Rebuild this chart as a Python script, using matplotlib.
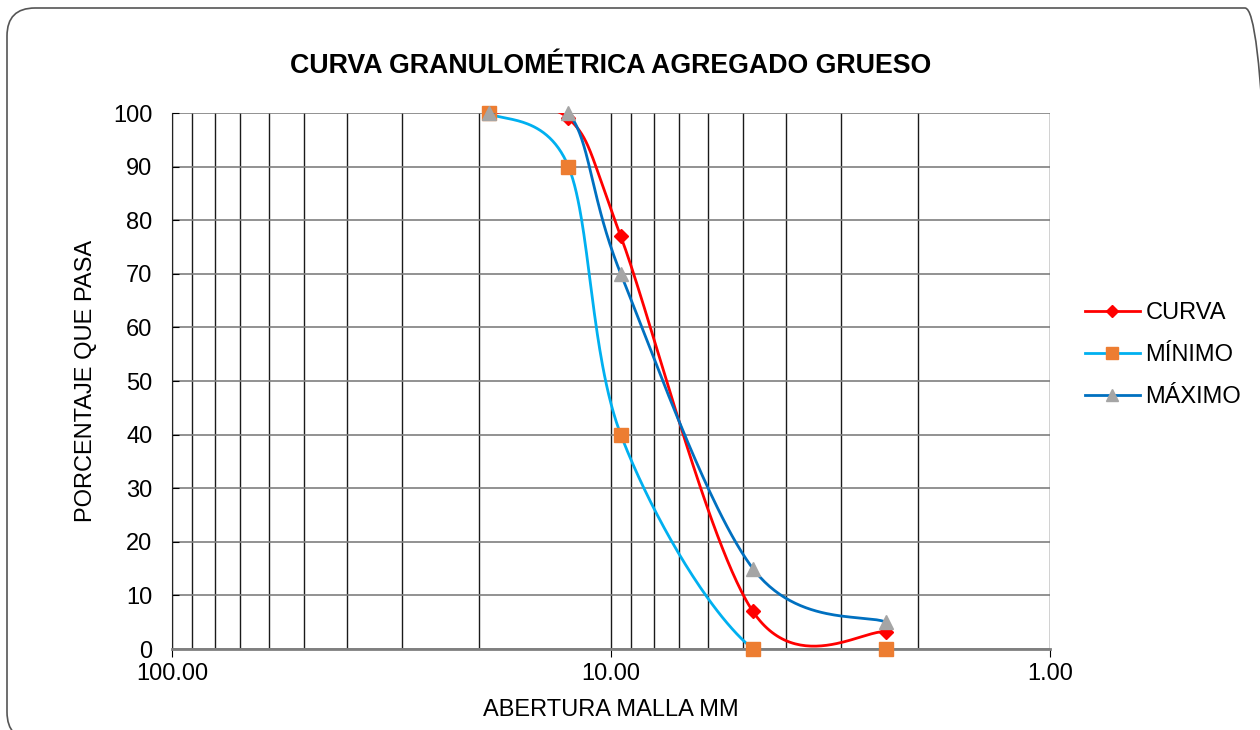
import numpy as np
import matplotlib
matplotlib.use("Agg")
import matplotlib.pyplot as plt
from matplotlib.patches import FancyBboxPatch
from matplotlib.transforms import IdentityTransform

# sieve openings (mm) and percent passing
aberturas = [19.0, 12.5, 9.5, 4.75, 2.36]
curva = [100, 99, 77, 7, 3.2]
minimo = [100, 90, 40, 0, 0]
maximo = [100, 100, 70, 15, 5]


def excel_smooth(xs, ys, n=60):
    # Bezier smoothing like Excel, done in log10(x) space
    lx = np.log10(xs)
    ys = np.array(ys, dtype=float)
    pts = np.column_stack([lx, ys])
    out = []
    for i in range(len(pts) - 1):
        p0 = pts[i - 1] if i > 0 else pts[i]
        p1 = pts[i]
        p2 = pts[i + 1]
        p3 = pts[i + 2] if i + 2 < len(pts) else pts[i + 1]
        c1 = p1 + (p2 - p0) / 6
        c2 = p2 - (p3 - p1) / 6
        t = np.linspace(0, 1, n)[:, None]
        seg = ((1 - t) ** 3) * p1 + 3 * ((1 - t) ** 2) * t * c1 + 3 * (1 - t) * t ** 2 * c2 + t ** 3 * p2
        out.append(seg)
    out = np.vstack(out)
    return 10 ** out[:, 0], out[:, 1]


plt.rcParams['font.family'] = ['Liberation Sans', 'DejaVu Sans']

fig = plt.figure(figsize=(12.6, 7.3), dpi=100)
ax = fig.add_axes([172 / 1260, 1 - 649 / 730, (1050 - 172) / 1260, (649 - 113) / 730])

# border around the chart (pixel coords)
border = FancyBboxPatch((7, -10), 1266, 732,
                        boxstyle="round,pad=0,rounding_size=28",
                        transform=IdentityTransform(), facecolor='none',
                        edgecolor='#555555', linewidth=1.2, clip_on=False)
fig.patches.append(border)

series = [
    ("CURVA", curva, '#FF0000', 'D', '#FF0000', 7),
    ("MÍNIMO", minimo, '#00B0F0', 's', '#ED7D31', 9.5),
    ("MÁXIMO", maximo, '#0070C0', '^', '#A5A5A5', 10),
]

for i, (name, vals, lc, mk, mc, ms) in enumerate(series):
    sx, sy = excel_smooth(aberturas, vals)
    ax.plot(sx, sy, color=lc, linewidth=2.0, zorder=3 + i)
    ax.plot(aberturas, vals, linestyle='none', marker=mk, markersize=ms,
            markerfacecolor=mc, markeredgecolor=mc, zorder=3 + i, clip_on=False)
    ax.plot([], [], color=lc, linewidth=2.0, marker=mk, markersize=ms * 0.85,
            markerfacecolor=mc, markeredgecolor=mc, label=name)

ax.set_xscale('log')
ax.set_xlim(100, 1)
ax.set_ylim(0, 100)
ax.set_yticks(range(0, 101, 10))
ax.set_xticks([100, 10, 1])
ax.set_xticklabels(['100.00', '10.00', '1.00'])
ax.xaxis.set_minor_formatter(matplotlib.ticker.NullFormatter())
ax.tick_params(axis='x', which='minor', length=0)
ax.tick_params(axis='x', which='major', direction='out', length=6, labelsize=17, pad=4)
ax.tick_params(axis='y', direction='in', length=5, labelsize=17, pad=14)

ax.grid(True, which='major', axis='y', color='#7f7f7f', linewidth=1.2)
ax.grid(True, which='both', axis='x', color='#1a1a1a', linewidth=1.0)

for s in ['top', 'right']:
    ax.spines[s].set_visible(False)
ax.spines['left'].set_color('#222222')
ax.spines['bottom'].set_color('#7f7f7f')
ax.spines['bottom'].set_linewidth(2)

ax.set_title("CURVA GRANULOMÉTRICA AGREGADO GRUESO", fontsize=19.3,
             fontweight='bold', pad=29)
ax.set_xlabel("ABERTURA MALLA MM", fontsize=17, labelpad=10)
ax.set_ylabel("PORCENTAJE QUE PASA", fontsize=17, labelpad=12)

ax.legend(loc='center left', bbox_to_anchor=(1.016, 0.548), frameon=False,
          fontsize=17, handlelength=2.3, labelspacing=0.85, handletextpad=0.25)

fig.savefig("out.png", dpi=100)
